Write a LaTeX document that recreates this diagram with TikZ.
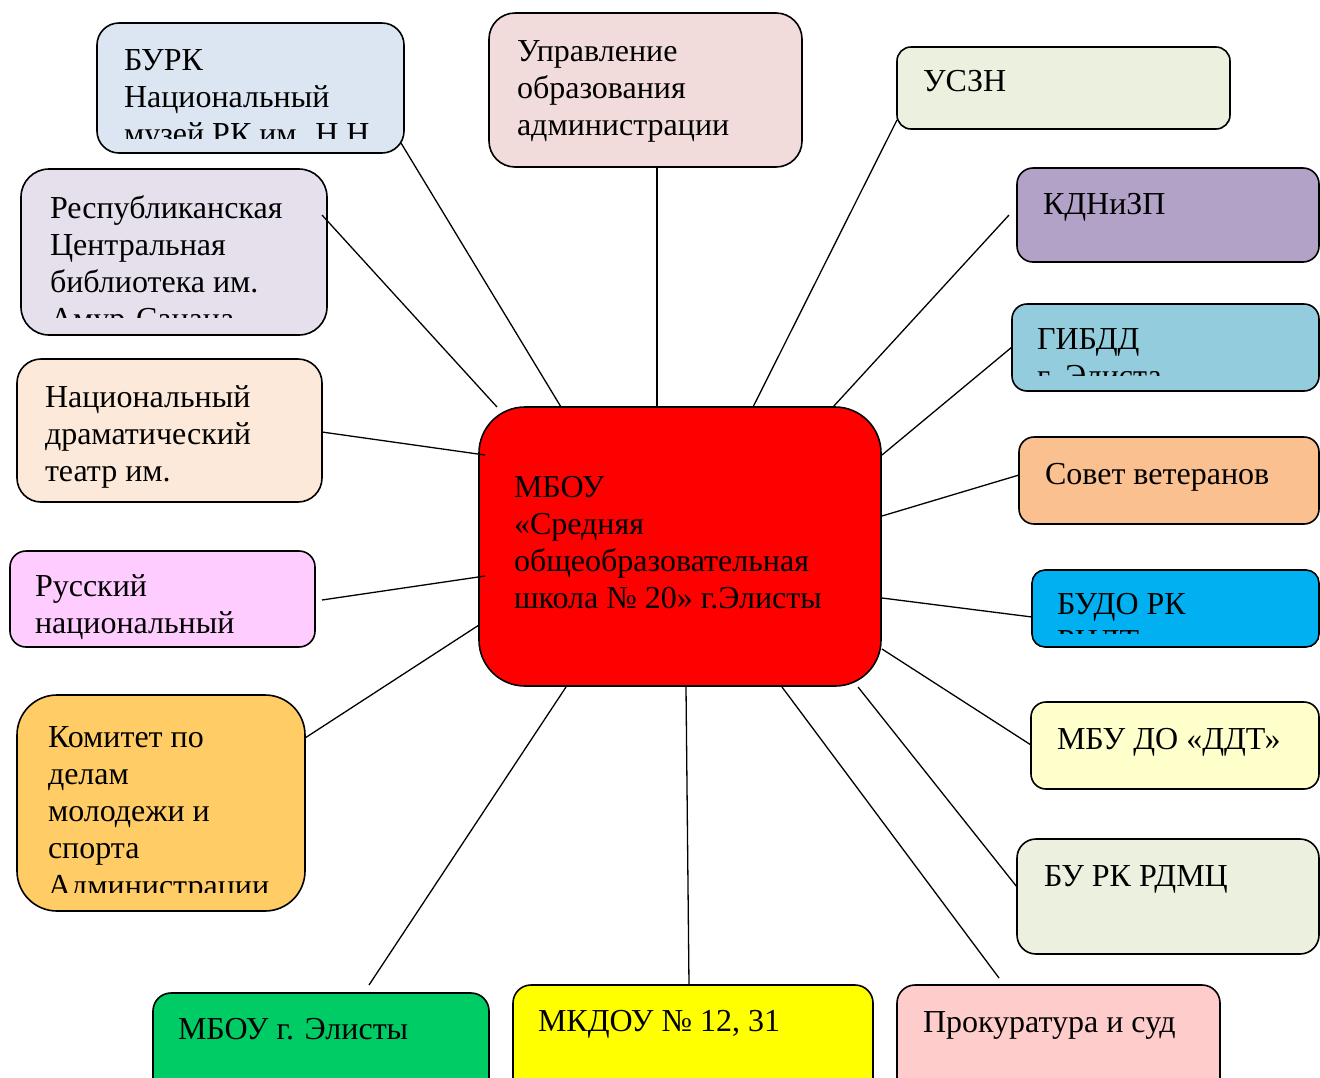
\documentclass[tikz,border=0pt]{standalone}
\usepackage{fontspec}
\setmainfont{Liberation Serif}
\usetikzlibrary{calc}
\definecolor{cBurk}{HTML}{DCE6F2}
\definecolor{cUpr}{HTML}{F2DCDB}
\definecolor{cUszn}{HTML}{EBF1DE}
\definecolor{cKdn}{HTML}{B2A2C7}
\definecolor{cGibdd}{HTML}{93CDDD}
\definecolor{cSov}{HTML}{FAC090}
\definecolor{cBudo}{HTML}{00B0F0}
\definecolor{cDdt}{HTML}{FFFFCC}
\definecolor{cRdmc}{HTML}{EBF1DE}
\definecolor{cProk}{HTML}{FFCCCC}
\definecolor{cMkdou}{HTML}{FFFF00}
\definecolor{cMbou}{HTML}{00CC66}
\definecolor{cKom}{HTML}{FFCC66}
\definecolor{cRus}{HTML}{FFCCFF}
\definecolor{cNat}{HTML}{FDE9D9}
\definecolor{cResp}{HTML}{E5E0EC}
\tikzset{
  box/.style={draw=black, line width=1.6pt, outer sep=0pt, inner sep=0pt, anchor=north west},
  txt/.style={anchor=base west, align=left, inner sep=0pt, outer sep=0pt, font=\fontsize{32}{37.3}\selectfont},
  conn/.style={draw=black, line width=1.3pt}
}
\begin{document}
\begin{tikzpicture}[x=1pt,y=-1pt]
\useasboundingbox (0,0) rectangle (1320,1077);
\clip (0,0) rectangle (1320,1077);
\fill[white] (0,0) rectangle (1320,1077);

% boxes
\node[box, fill=cBurk, minimum width=307, minimum height=130, rounded corners=22] (burk) at (97,23) {};
\node[box, fill=cUpr, minimum width=313, minimum height=154, rounded corners=26] (upr) at (489,13) {};
\node[box, fill=cUszn, minimum width=333, minimum height=82, rounded corners=14] (uszn) at (897,47) {};
\node[box, fill=cKdn, minimum width=302, minimum height=94, rounded corners=16] (kdn) at (1017,168) {};
\node[box, fill=cGibdd, minimum width=307, minimum height=87, rounded corners=15] (gibdd) at (1012,304) {};
\node[box, fill=cSov, minimum width=300, minimum height=87, rounded corners=15] (sov) at (1019,437) {};
\node[box, fill=cBudo, minimum width=287, minimum height=77, rounded corners=13] (budo) at (1032,570) {};
\node[box, fill=cDdt, minimum width=288, minimum height=87, rounded corners=15] (ddt) at (1031,702) {};
\node[box, fill=cRdmc, minimum width=302, minimum height=115, rounded corners=19] (rdmc) at (1017,839) {};
\node[box, fill=cProk, minimum width=323, minimum height=120, rounded corners=18] (prok) at (897,985) {};
\node[box, fill=cMkdou, minimum width=360, minimum height=120, rounded corners=18] (mkdou) at (513,985) {};
\node[box, fill=cMbou, minimum width=336, minimum height=112, rounded corners=18] (mbou) at (153,993) {};
\node[box, fill=cKom, minimum width=288, minimum height=216, rounded corners=40] (kom) at (17,695) {};
\node[box, fill=cRus, minimum width=305, minimum height=96, rounded corners=16] (rus) at (10,551) {};
\node[box, fill=cNat, minimum width=305, minimum height=143, rounded corners=24] (nat) at (17,359) {};
\node[box, fill=cResp, minimum width=306, minimum height=166, rounded corners=28] (resp) at (21,169) {};
\node[box, fill=red, minimum width=402, minimum height=279, rounded corners=46] (c) at (479,407) {};

% texts (anchor = baseline of the last line)
\begin{scope}
\clip (burk.north west) rectangle ($(burk.north east)+(0,115)$);
\node[txt] (burk-t) at (124,144.6) {БУРК\\Национальный\\музей РК им. Н.Н.};
\end{scope}
\node[txt] (upr-t) at (517,135.6) {Управление\\образования\\администрации};
\node[txt] (uszn-t) at (923,91) {УСЗН};
\node[txt] (kdn-t) at (1043,214) {КДНиЗП};
\begin{scope}
\clip (gibdd.north west) rectangle ($(gibdd.north east)+(0,71)$);
\node[txt] (gibdd-t) at (1037,386.3) {ГИБДД\\г. Элиста};
\end{scope}
\node[txt] (sov-t) at (1045,484) {Совет ветеранов};
\begin{scope}
\clip (budo.north west) rectangle ($(budo.north east)+(0,63)$);
\node[txt] (budo-t) at (1057,651.3) {БУДО РК\\РЦДТ};
\end{scope}
\node[txt] (ddt-t) at (1057,749) {МБУ ДО «ДДТ»};
\node[txt] (rdmc-t) at (1044,886) {БУ РК РДМЦ};
\node[txt] (prok-t) at (923,1032) {Прокуратура и суд};
\node[txt] (mkdou-t) at (538,1031) {МКДОУ № 12, 31};
\node[txt] (mbou-t) at (178,1039) {МБОУ г. Элисты};
\begin{scope}
\clip (kom.north west) rectangle ($(kom.north east)+(0,197)$);
\node[txt] (kom-t) at (48,896.2) {Комитет по\\делам\\молодежи и\\спорта\\Администрации};
\end{scope}
\node[txt] (rus-t) at (35,633.3) {Русский\\национальный};
\node[txt] (nat-t) at (45,481.6) {Национальный\\драматический\\театр им.};
\begin{scope}
\clip (resp.north west) rectangle ($(resp.north east)+(0,148)$);
\node[txt] (resp-t) at (50,329.9) {Республиканская\\Центральная\\библиотека им.\\Амур-Санана};
\end{scope}
\node[txt] (c-t) at (514,608.9) {МБОУ\\«Средняя\\общеобразовательная\\школа № 20» г.Элисты};

% connectors
\draw[conn] ($(burk.south east)+(-3,-10)$) -- ($(c.north west)+(82,0)$);
\draw[conn] ($(upr.south west)+(168,0)$) -- ($(c.north west)+(178,0)$);
\draw[conn] ($(uszn.south west)+(0,-9)$) -- ($(c.north west)+(274,0)$);
\draw[conn] ($(kdn.north west)+(-8,47)$) -- ($(c.north east)+(-48,0)$);
\draw[conn] ($(gibdd.north west)+(0,43)$) -- ($(c.north east)+(1,48)$);
\draw[conn] ($(sov.north west)+(0,38)$) -- ($(c.north east)+(1,109)$);
\draw[conn] ($(budo.north west)+(0,47)$) -- ($(c.north east)+(1,191)$);
\draw[conn] ($(ddt.north west)+(0,43)$) -- ($(c.south east)+(1,-37)$);
\draw[conn] ($(rdmc.north west)+(0,48)$) -- ($(c.south east)+(-23,1)$);
\draw[conn] ($(prok.north west)+(102,-7)$) -- ($(c.south east)+(-99,1)$);
\draw[conn] ($(mkdou.north west)+(176,0)$) -- ($(c.south west)+(207,1)$);
\draw[conn] ($(mbou.north west)+(216,-8)$) -- ($(c.south west)+(87,1)$);
\draw[conn] ($(kom.north east)+(0,43)$) -- ($(c.south west)+(0,-61)$);
\draw[conn] ($(rus.north east)+(7,49)$) -- ($(c.north west)+(6,169)$);
\draw[conn] ($(nat.north east)+(0,73)$) -- ($(c.north west)+(6,48)$);
\draw[conn] ($(resp.north east)+(-5,46)$) -- ($(c.north west)+(18,0)$);
\end{tikzpicture}
\end{document}
